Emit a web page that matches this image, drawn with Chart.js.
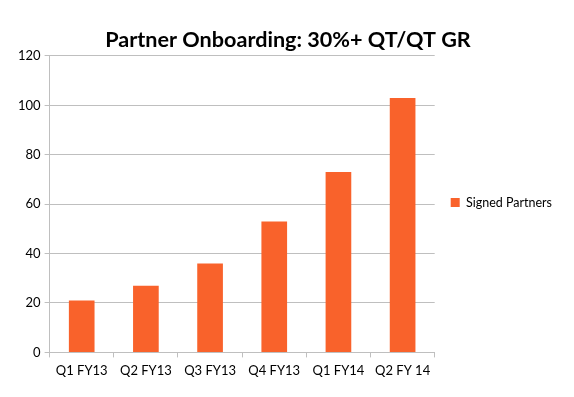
<!DOCTYPE html>
<html>
<head>
<meta charset="utf-8">
<script src="https://cdn.jsdelivr.net/npm/chart.js@4"></script>
<style>
  body { margin: 0; background: #fff; }
  #wrap { width: 574px; height: 397px; }
</style>
</head>
<body>
<div id="wrap"><canvas id="myChart" width="574" height="397"></canvas></div>
<script>
var quarters = ['Q1 FY13', 'Q2 FY13', 'Q3 FY13', 'Q4 FY13', 'Q1 FY14', 'Q2 FY 14'];
var signedPartners = [21, 27, 36, 53, 73, 103];
var seriesName = 'Signed Partners';
var chartTitle = 'Partner Onboarding: 30%+ QT/QT GR';

var font = 'Lato, "Open Sans", sans-serif';
var orange = '#F9622B';
var gridGrey = '#BFBFBF';

var ctx = document.getElementById('myChart');

new Chart(ctx, {
    type: 'bar',
    data: {
        labels: quarters,
        datasets: [{
            label: seriesName,
            data: signedPartners,
            backgroundColor: orange,
            borderWidth: 0,
            categoryPercentage: 1,
            barPercentage: 0.4
        }]
    },
    options: {
        responsive: false,
        animation: false,
        layout: {
            padding: { left: 14, right: 12, top: 20, bottom: 12 }
        },
        plugins: {
            title: {
                display: true,
                text: chartTitle,
                color: '#000',
                font: { family: font, size: 21.6, weight: 'bold' },
                padding: { top: 7, bottom: 3 }
            },
            legend: {
                position: 'right',
                labels: {
                    color: '#000',
                    boxWidth: 9,
                    boxHeight: 9,
                    padding: 16,
                    font: { family: font, size: 12.5 }
                }
            },
            tooltip: { enabled: false }
        },
        scales: {
            x: {
                grid: {
                    offset: true,
                    drawOnChartArea: false,
                    color: gridGrey,
                    tickLength: 5
                },
                border: { color: gridGrey },
                ticks: {
                    color: '#000',
                    padding: 6,
                    maxRotation: 0,
                    font: { family: font, size: 13 }
                }
            },
            y: {
                min: 0,
                max: 120,
                ticks: {
                    stepSize: 20,
                    color: '#000',
                    padding: 4,
                    font: { family: font, size: 13 }
                },
                grid: {
                    color: gridGrey,
                    tickLength: 5
                },
                border: { color: gridGrey }
            }
        }
    }
});
</script>
</body>
</html>
